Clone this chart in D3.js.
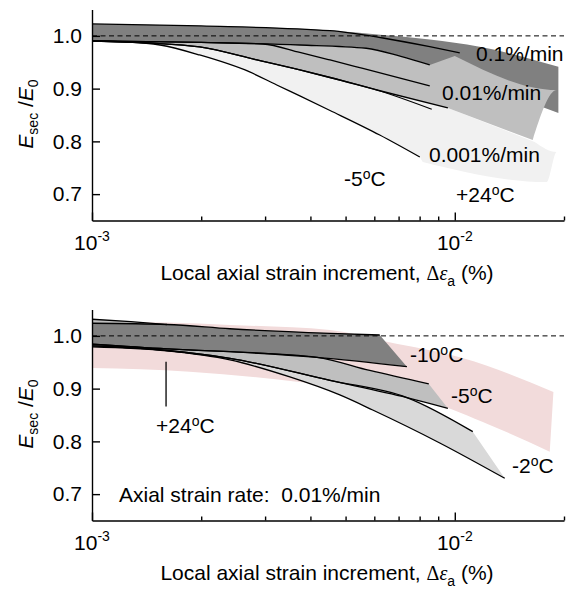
<!DOCTYPE html>
<html>
<head>
<meta charset="utf-8">
<script src="https://cdn.jsdelivr.net/npm/d3@7"></script>
<style>
  html, body { margin: 0; padding: 0; background: #fff; }
  svg text { font-family: "Liberation Sans", Arial, sans-serif; white-space: pre; }
</style>
</head>
<body>
<script>
// ---- axes ----
const X_DOMAIN = [0.001, 0.02];
const Y_DOMAIN = [0.65, 1.05];
const xMajorTicks = [0.001, 0.01];
const xMajorBase = ["10", "10"];
const xMajorExp = ["-3", "-2"];
const xMinorTicks = [0.002, 0.003, 0.004, 0.005, 0.006, 0.007, 0.008, 0.009, 0.02];
const yTicks = [0.7, 0.8, 0.9, 1.0];
const refLevel = 1.0;

// ---- upper panel: strain-rate series (strain %, Esec/E0) ----
const rate01Upper = [[0.001,1.0226],[0.002,1.0188],[0.00453,1.0099],[0.00634,0.996],[0.00853,0.9795],[0.01032,0.9676]];
const rate01Lower = [[0.001,0.9903],[0.002,0.9875],[0.00374,0.9827],[0.0057,0.9765],[0.0071,0.961],[0.00853,0.9448]];
const rate001Upper = [[0.001,0.9903],[0.002,0.9875],[0.00296,0.9846],[0.00374,0.9686],[0.00453,0.9543],[0.00558,0.9382],[0.00853,0.905]];
const rate001Lower = [[0.001,0.9903],[0.00144,0.9865],[0.00198,0.979],[0.00285,0.9543],[0.00374,0.9354],[0.00453,0.9211],[0.0061,0.8974],[0.00957,0.8633]];
const rate0001Upper = [[0.001,0.9903],[0.00144,0.9865],[0.00198,0.979],[0.00285,0.9543],[0.00374,0.9354],[0.00453,0.9211],[0.0061,0.8974],[0.00864,0.8609]];
const rate0001Lower = [[0.001,0.9903],[0.00127,0.9884],[0.00154,0.9827],[0.00198,0.9638],[0.00272,0.9316],[0.00323,0.9069],[0.00374,0.8861],[0.00453,0.8586],[0.00621,0.8121],[0.00801,0.7704]];

// envelopes extending towards larger strains
const rate01EnvTop = [[0.001,1.0226],[0.00198,1.0188],[0.00453,1.0103],[0.00634,1.0017],[0.00853,0.9932],[0.0117,0.9795],[0.0193,0.9416]];
const rate01EnvEnd = [[0.0193,0.8538]];
const rate001EnvEnd = [[0.01,0.9619],[0.0191,0.8974],[0.0164,0.8026]];
const rate0001EnvEnd = [[0.0166,0.7989],[0.0191,0.7799],[0.0179,0.723],[0.00816,0.761]];

// ---- lower panel: temperature series at 0.01%/min ----
const cold10Upper = [[0.001,1.0239],[0.00161,1.0216],[0.0024,1.0135],[0.00453,1.0049],[0.00621,1.0017]];
const cold10Lower = [[0.001,0.9841],[0.00161,0.9752],[0.0024,0.970],[0.00417,0.9594],[0.00738,0.9416]];
const cold10Edge = [[0.001,1.0315],[0.00128,1.027],[0.00161,1.0216]];
const cold5Upper = [[0.001,0.9841],[0.00161,0.9752],[0.0024,0.970],[0.00417,0.9594],[0.00583,0.9344],[0.00848,0.9088]];
const cold5Lower = [[0.001,0.981],[0.00161,0.9723],[0.0024,0.9575],[0.00453,0.9155],[0.00738,0.883],[0.00957,0.8627]];
const cold2Upper = [[0.001,0.981],[0.00161,0.9723],[0.0024,0.9575],[0.00453,0.9155],[0.00738,0.883],[0.01121,0.8184]];
const cold2Lower = [[0.001,0.979],[0.00161,0.9714],[0.0024,0.9543],[0.00351,0.9221],[0.00482,0.888],[0.00594,0.8595],[0.00909,0.797],[0.01373,0.730]];
const warmTop = [[0.001,1.027],[0.00161,1.0255],[0.0024,1.0207],[0.00453,1.0112],[0.0065,0.989],[0.0105,0.9581],[0.0187,0.8936]];
const warmBottom = [[0.001,0.9391],[0.00186,0.9321],[0.00367,0.9132],[0.00621,0.8936],[0.00853,0.8747],[0.01249,0.8311],[0.01827,0.7805]];
const warmPointer = [[0.0016,0.951],[0.0016,0.866]];

// ---- colours ----
const DARK = "#808080", MID = "#bfbfbf", PALE = "#f1f1f1", LIGHT = "#d9d9d9", PINK = "#f2dbdb";
const FS = 21, FS_SMALL = 14;

const W = 566, H = 590;
const svg = d3.select("body").append("svg").attr("width", W).attr("height", H);

const x = d3.scaleLog().domain(X_DOMAIN).range([92, 564]);
const y = d3.scaleLinear().domain(Y_DOMAIN).range([220.5, 9.5]);

const lineGen = d3.line().x(d => x(d[0])).y(d => y(d[1])).curve(d3.curveMonotoneX);
const rev = a => a.slice().reverse();

// closed outline from consecutive chains (smooth inside a chain, straight between chains)
function shapePath(chains) {
  let d = "";
  chains.forEach((c, i) => {
    let s = c.length > 1 ? lineGen(c) : `M${x(c[0][0])},${y(c[0][1])}`;
    if (i > 0) s = "L" + s.slice(1);
    d += s;
  });
  return d + "Z";
}

function fillShape(g, chains, color) {
  g.append("path").attr("d", shapePath(chains)).attr("fill", color).attr("stroke", "none");
}
function curve(g, pts) {
  g.append("path").attr("d", lineGen(pts)).attr("fill", "none")
    .attr("stroke", "#000").attr("stroke-width", 1.3);
}
function label(g, px, py, parts) {
  const t = g.append("text").attr("x", px).attr("y", py).attr("font-size", FS).attr("fill", "#000");
  parts.forEach(p => {
    const s = t.append("tspan").text(p.t);
    if (p.size) s.attr("font-size", p.size);
    if (p.dy) s.attr("dy", p.dy);
  });
  return t;
}
const degC = (pre) => [{t: pre}, {t: "o", size: FS_SMALL, dy: -7}, {t: "C", dy: 7}];

function frame(g) {
  // dashed reference at unity
  g.append("line")
    .attr("x1", x(X_DOMAIN[0])).attr("x2", x(X_DOMAIN[1]))
    .attr("y1", y(refLevel)).attr("y2", y(refLevel))
    .attr("stroke", "#000").attr("stroke-width", 1).attr("stroke-dasharray", "5,3.5");

  const yAxis = d3.axisLeft(y).tickValues(yTicks).tickSize(-8).tickSizeOuter(0)
    .tickPadding(10).tickFormat(d3.format(".1f"));
  const ga = g.append("g").attr("transform", `translate(${x(X_DOMAIN[0])},0)`).call(yAxis);
  ga.selectAll("text").attr("font-size", FS).attr("font-family", "Liberation Sans, Arial, sans-serif").attr("fill", "#000");

  const xMinor = d3.axisBottom(x).tickValues(xMinorTicks).tickSize(-4).tickSizeOuter(0).tickFormat("");
  const xMajor = d3.axisBottom(x).tickValues(xMajorTicks).tickSize(-8).tickSizeOuter(0).tickFormat("");
  g.append("g").attr("transform", `translate(0,${y(Y_DOMAIN[0])})`).call(xMinor);
  const gx2 = g.append("g").attr("transform", `translate(0,${y(Y_DOMAIN[0])})`).call(xMajor);
  gx2.select(".domain").remove();

  g.selectAll(".domain, .tick line").attr("stroke", "#000").attr("stroke-width", 1.4);

  xMajorTicks.forEach((v, i) => {
    const t = g.append("text").attr("x", x(v)).attr("y", 250).attr("text-anchor", "middle")
      .attr("font-size", FS).attr("fill", "#000");
    t.append("tspan").text(xMajorBase[i]);
    t.append("tspan").text(xMajorExp[i]).attr("font-size", FS_SMALL).attr("dy", -9);
  });

  // axis titles
  const xt = g.append("text").attr("x", 327).attr("y", 280).attr("text-anchor", "middle")
    .attr("font-size", FS).attr("fill", "#000");
  xt.append("tspan").text("Local axial strain increment, ");
  xt.append("tspan").text("Δ").attr("font-family", "Liberation Serif, Times New Roman, serif").attr("font-size", 20);
  xt.append("tspan").text("ε").attr("font-family", "Liberation Serif, Times New Roman, serif").attr("font-style", "italic").attr("font-size", 20);
  xt.append("tspan").text("a").attr("font-size", FS_SMALL).attr("dy", 6);
  xt.append("tspan").text(" (%)").attr("dy", -6);

  const yt = g.append("text").attr("transform", "translate(33,114) rotate(-90)")
    .attr("text-anchor", "middle").attr("font-size", FS).attr("fill", "#000");
  yt.append("tspan").text("E").attr("font-style", "italic");
  yt.append("tspan").text("sec").attr("font-size", FS_SMALL).attr("dy", 5);
  yt.append("tspan").text(" /").attr("dy", -5);
  yt.append("tspan").text("E").attr("font-style", "italic");
  yt.append("tspan").text("0").attr("font-size", FS_SMALL).attr("dy", 5);
}

// ---------- upper panel: effect of strain rate ----------
const ratePanel = svg.append("g");
fillShape(ratePanel, [rate01EnvTop, rate01EnvEnd, rev(rate01Lower)], DARK);
fillShape(ratePanel, [rate001Lower, rate0001EnvEnd, rev(rate0001Lower)], PALE);
fillShape(ratePanel, [rate01Lower, rate001EnvEnd, rev(rate001Lower)], MID);
[rate01Upper, rate01Lower, rate001Upper, rate001Lower, rate0001Upper, rate0001Lower].forEach(s => curve(ratePanel, s));
frame(ratePanel);
label(ratePanel, 476, 61, [{t: "0.1%/min"}]);
label(ratePanel, 442, 100, [{t: "0.01%/min"}]);
label(ratePanel, 429, 162, [{t: "0.001%/min"}]);
label(ratePanel, 344, 186, degC("-5"));
label(ratePanel, 456, 202, degC("+24"));

// ---------- lower panel: effect of temperature ----------
const tempPanel = svg.append("g").attr("transform", "translate(0,300)");
fillShape(tempPanel, [warmTop, rev(warmBottom)], PINK);
fillShape(tempPanel, [cold2Upper, rev(cold2Lower)], LIGHT);
fillShape(tempPanel, [cold5Upper, rev(cold5Lower)], MID);
fillShape(tempPanel, [cold10Edge, rev(cold10Upper.slice(0, 2))], MID);
fillShape(tempPanel, [cold10Upper, rev(cold10Lower)], DARK);
[cold10Edge, cold10Upper, cold10Lower, cold5Upper, cold5Lower, cold2Upper, cold2Lower].forEach(s => curve(tempPanel, s));
tempPanel.append("path").attr("d", d3.line().x(d => x(d[0])).y(d => y(d[1]))(warmPointer))
  .attr("stroke", "#000").attr("stroke-width", 1.3);
frame(tempPanel);
label(tempPanel, 410, 62, degC("-10"));
label(tempPanel, 451, 103, degC("-5"));
label(tempPanel, 512, 173, degC("-2"));
label(tempPanel, 156, 133, degC("+24"));
label(tempPanel, 119, 202, [{t: "Axial strain rate:  0.01%/min"}]);
</script>
</body>
</html>
